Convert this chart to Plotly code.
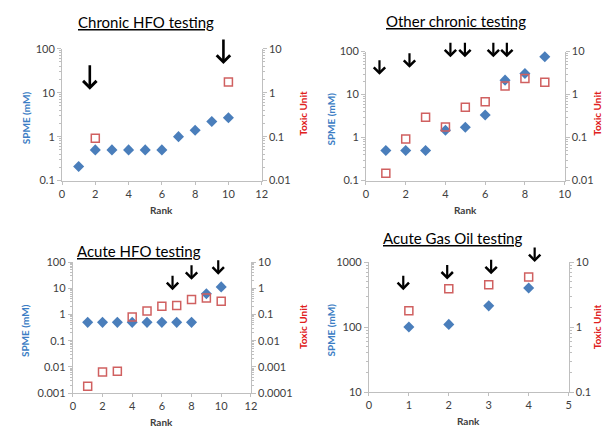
import plotly.graph_objects as go
import math

# ---------------- data ----------------
# Panel 1: Chronic HFO testing
p1_rank = [1, 2, 3, 4, 5, 6, 7, 8, 9, 10]
p1_spme = [0.21, 0.5, 0.5, 0.5, 0.5, 0.5, 1.0, 1.4, 2.2, 2.7]
p1_tu_rank = [2, 10]
p1_tu = [0.092, 1.76]
p1_arrow_x = [1.67, 9.7]
p1_arrow_tip = [11.7, 44.7]          # in SPME units (left axis)

# Panel 2: Other chronic testing
p2_rank = [1, 2, 3, 4, 5, 6, 7, 8, 9]
p2_spme = [0.5, 0.5, 0.5, 1.49, 1.74, 3.35, 21.7, 31, 76]
p2_tu_rank = [1, 2, 3, 4, 5, 6, 7, 8, 9]
p2_tu = [0.0149, 0.093, 0.297, 0.177, 0.51, 0.68, 1.59, 2.38, 1.95]
p2_arrow_x = [0.68, 2.19, 4.25, 4.98, 6.41, 7.09, 8.51]
p2_arrow_tip = [29, 42, 74, 74, 74, 74, 150]

# Panel 3: Acute HFO testing
p3_rank = [1, 2, 3, 4, 5, 6, 7, 8, 9, 10]
p3_spme = [0.5, 0.5, 0.5, 0.5, 0.5, 0.5, 0.5, 0.5, 6.2, 11.3]
p3_tu_rank = [1, 2, 3, 4, 5, 6, 7, 8, 9, 10]
p3_tu = [0.00018, 0.00064, 0.00068, 0.08, 0.137, 0.204, 0.22, 0.37, 0.43, 0.32]
p3_arrow_x = [6.72, 8.0, 9.8]
p3_arrow_tip = [8.5, 21, 33]

# Panel 4: Acute Gas Oil testing
p4_rank = [1, 2, 3, 4]
p4_spme = [100, 110, 212, 400]
p4_tu_rank = [1, 2, 3, 4]
p4_tu = [1.78, 3.88, 4.5, 5.9]
p4_arrow_x = [0.86, 1.96, 3.06, 4.15]
p4_arrow_tip = [370, 540, 650, 1000]

titles = ["Chronic HFO testing", "Other chronic testing", "Acute HFO testing", "Acute Gas Oil testing"]

# ---------------- style ----------------
W, H = 612, 432
FONT = "Lato"
BLUE = "#4A7EBB"
RED = "#D06060"
AXC = "#BFBFBF"
TXT = "#404040"

def px_x(p):
    return p / W

def px_y(p):
    return 1 - p / H

def minor_vals(lo, hi):
    vals = []
    for e in range(lo, hi):
        for m in range(2, 10):
            vals.append(m * 10 ** e)
    return vals

# panel boxes (pixels): left, right, top, bottom
boxes = [(60, 263, 43, 179), (369, 571, 46, 179), (71, 252, 263, 398), (372, 575, 263, 397)]
xranges = [(0, 12, 2), (0, 10, 2), (0, 12, 2), (0, 5, 1)]
lranges = [(-1, 2), (-1, 2), (-3, 2), (1, 3)]
rranges = [(-2, 1), (-2, 1), (-4, 1), (-1, 1)]
title_pos = [(145, 15), (461, 14), (138, 252), (457, 238)]
arrow_len = [26, 16, 16, 16]
arrow_w = [2.6, 2.2, 2.2, 2.2]

panels = [
    (p1_rank, p1_spme, p1_tu_rank, p1_tu, p1_arrow_x, p1_arrow_tip),
    (p2_rank, p2_spme, p2_tu_rank, p2_tu, p2_arrow_x, p2_arrow_tip),
    (p3_rank, p3_spme, p3_tu_rank, p3_tu, p3_arrow_x, p3_arrow_tip),
    (p4_rank, p4_spme, p4_tu_rank, p4_tu, p4_arrow_x, p4_arrow_tip),
]

fig = go.Figure()
layout = {}
annotations = []

for i, (rk, sp, trk, tu, ax_x, ax_tip) in enumerate(panels):
    n = i + 1
    xa = "x" if n == 1 else f"x{n}"
    yl = 2 * n - 1
    yr = 2 * n
    yla = "y" if yl == 1 else f"y{yl}"
    yra = f"y{yr}"
    L, R, T, B = boxes[i]

    fig.add_trace(go.Scatter(x=rk, y=sp, mode="markers", xaxis=xa, yaxis=yla,
                             marker=dict(symbol="diamond", size=8.5, color=BLUE),
                             showlegend=False, cliponaxis=False))
    fig.add_trace(go.Scatter(x=trk, y=tu, mode="markers", xaxis=xa, yaxis=yra,
                             marker=dict(symbol="square-open", size=8, color=RED,
                                         line=dict(width=1.5, color=RED)),
                             showlegend=False, cliponaxis=False))

    x0, x1, dx = xranges[i]
    xkey = "xaxis" if n == 1 else f"xaxis{n}"
    layout[xkey] = dict(domain=[px_x(L), px_x(R)], anchor=yla, range=[x0, x1], dtick=dx,
                        tick0=0, showgrid=False, zeroline=False, showline=True,
                        linecolor=AXC, linewidth=1, ticks="outside", ticklen=3,
                        tickcolor=AXC, tickfont=dict(family=FONT, size=11, color=TXT))
    lo, hi = lranges[i]
    ylkey = "yaxis" if yl == 1 else f"yaxis{yl}"
    layout[ylkey] = dict(domain=[px_y(B), px_y(T)], anchor=xa, type="log",
                         range=[lo, hi], tickvals=[10 ** e for e in range(lo, hi + 1)],
                         tickformat="~g", showgrid=False, zeroline=False,
                         showline=True, linecolor=AXC, linewidth=1, ticks="outside",
                         ticklen=4, tickcolor=AXC,
                         minor=dict(ticks="outside", ticklen=2, tickcolor=AXC,
                                    tickvals=minor_vals(lo, hi), showgrid=False),
                         tickfont=dict(family=FONT, size=11, color=TXT))
    rlo, rhi = rranges[i]
    layout[f"yaxis{yr}"] = dict(domain=[px_y(B), px_y(T)], anchor=xa, overlaying=yla,
                                side="right", type="log", range=[rlo, rhi],
                                tickvals=[10 ** e for e in range(rlo, rhi + 1)],
                                tickformat="~g",
                                showgrid=False, zeroline=False, showline=True,
                                linecolor=AXC, linewidth=1, ticks="outside", ticklen=4,
                                tickcolor=AXC,
                                minor=dict(ticks="outside", ticklen=2, tickcolor=AXC,
                                           tickvals=minor_vals(rlo, rhi), showgrid=False),
                                tickfont=dict(family=FONT, size=11, color=TXT))

    # titles
    tx, ty = title_pos[i]
    annotations.append(dict(text=f"<u>{titles[i]}</u>", x=px_x(tx), y=px_y(ty), xref="paper",
                            yref="paper", showarrow=False, xanchor="center", yanchor="middle",
                            font=dict(family=FONT, size=15, color="black")))
    # axis titles
    annotations.append(dict(text="<b>Rank</b>", x=px_x((L + R) / 2), y=px_y(B + 30), xref="paper",
                            yref="paper", showarrow=False, xanchor="center", yanchor="middle",
                            font=dict(family=FONT, size=10, color=TXT)))
    spx = 23 if i in (0, 2) else 333
    annotations.append(dict(text="<b>SPME (mM)</b>", x=px_x(spx), y=px_y((T + B) / 2 + 3),
                            xref="paper", yref="paper", showarrow=False, textangle=-90,
                            xanchor="center", yanchor="middle",
                            font=dict(family=FONT, size=10, color="#3B7DC4")))
    # arrows
    for axx, tip in zip(ax_x, ax_tip):
        length = 12 if (i == 1 and tip >= 150) else arrow_len[i]
        annotations.append(dict(x=axx, y=math.log10(tip), xref=xa, yref=yla, text="",
                                showarrow=True, arrowhead=4, arrowsize=1,
                                arrowwidth=arrow_w[i], arrowcolor="black", ax=0, ay=-length))

# "Toxic Unit" labels
for yc in (110, 330):
    for xc in (305, 604):
        annotations.append(dict(text="<b>Toxic Unit</b>", x=px_x(xc), y=px_y(yc), xref="paper",
                                yref="paper", showarrow=False, textangle=-90,
                                xanchor="center", yanchor="middle",
                                font=dict(family=FONT, size=10, color="#E02020")))

fig.update_layout(width=W, height=H, margin=dict(l=0, r=0, t=0, b=0),
                  paper_bgcolor="white", plot_bgcolor="white",
                  annotations=annotations, showlegend=False, **layout)

fig.write_html("out.html")
